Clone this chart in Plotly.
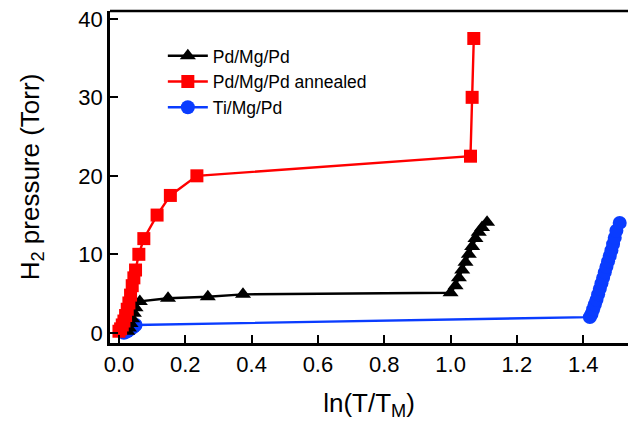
import plotly.graph_objects as go

# Pd/Mg/Pd (black triangles)
pd_x = [0.025, 0.03, 0.035, 0.04, 0.045, 0.05, 0.063, 0.148, 0.268, 0.374,
        1.0, 1.015, 1.025, 1.035, 1.045, 1.055, 1.065, 1.075, 1.085, 1.095, 1.11]
pd_y = [0.2, 0.6, 1.2, 1.8, 2.5, 3.2, 4.0, 4.4, 4.6, 4.9,
        5.1, 6.0, 7.0, 8.0, 9.0, 10.0, 11.0, 12.0, 12.8, 13.4, 14.1]

# Pd/Mg/Pd annealed (red squares)
ann_x = [0.0, 0.005, 0.01, 0.015, 0.02, 0.025, 0.03, 0.035, 0.04, 0.045, 0.05,
         0.06, 0.075, 0.115, 0.155, 0.235, 1.06, 1.065, 1.07]
ann_y = [0.2, 0.5, 1.0, 1.5, 2.2, 3.0, 3.8, 4.8, 6.0, 7.0, 8.0,
         10.0, 12.0, 15.0, 17.5, 20.0, 22.5, 30.0, 37.5]

# Ti/Mg/Pd (blue circles)
ti_x = [0.015, 0.02, 0.025, 0.03, 0.035, 0.04, 0.045, 0.05,
        1.42, 1.425, 1.43, 1.435, 1.44, 1.445, 1.45, 1.455, 1.46, 1.465,
        1.47, 1.475, 1.48, 1.485, 1.49, 1.495, 1.50, 1.51]
ti_y = [0.0, 0.1, 0.2, 0.35, 0.5, 0.65, 0.8, 1.0,
        2.0, 2.4, 3.0, 3.6, 4.2, 4.9, 5.6, 6.3, 7.0, 7.7,
        8.4, 9.1, 9.8, 10.5, 11.3, 12.1, 13.0, 14.0]

x_ticks = [0.0, 0.2, 0.4, 0.6, 0.8, 1.0, 1.2, 1.4]
y_ticks = [0, 10, 20, 30, 40]

BLUE = "#0A3CFF"
RED = "#FF0000"
BLACK = "#000000"

fig = go.Figure()
fig.add_trace(go.Scatter(x=ti_x, y=ti_y, mode="lines+markers", name="Ti/Mg/Pd",
                         legendrank=3,
                         line=dict(color=BLUE, width=2.4),
                         marker=dict(symbol="circle", size=14, color=BLUE)))
fig.add_trace(go.Scatter(x=pd_x, y=pd_y, mode="lines+markers", name="Pd/Mg/Pd",
                         legendrank=1,
                         line=dict(color=BLACK, width=2.4),
                         marker=dict(symbol="triangle-up", size=14, color=BLACK)))
fig.add_trace(go.Scatter(x=ann_x, y=ann_y, mode="lines+markers", name="Pd/Mg/Pd annealed",
                         legendrank=2,
                         line=dict(color=RED, width=2.4),
                         marker=dict(symbol="square", size=13, color=RED)))

font_family = "Liberation Sans, Arial, sans-serif"

fig.update_layout(
    width=628, height=425,
    margin=dict(l=110, r=0, t=11, b=82),
    paper_bgcolor="white", plot_bgcolor="white",
    font=dict(family=font_family, color="black"),
    showlegend=True,
    legend=dict(x=0.102, y=0.919, xanchor="left", yanchor="top",
                bgcolor="rgba(0,0,0,0)", font=dict(size=17.5, color="black"),
                tracegroupgap=0, itemwidth=40),
    xaxis=dict(range=[-0.027, 1.535], tickvals=x_ticks,
               ticktext=[f"{v:.1f}" for v in x_ticks],
               ticks="inside", ticklen=8, tickwidth=2, tickcolor="black",
               showline=True, linewidth=2.5, linecolor="black", mirror=False,
               showgrid=False, zeroline=False,
               tickfont=dict(size=22, color="black"),
               title=dict(text="ln(T/T<sub>M</sub>)", font=dict(size=26, color="black"),
                          standoff=18)),
    yaxis=dict(range=[-1.3, 41.0], tickvals=y_ticks,
               ticks="inside", ticklen=8, tickwidth=2, tickcolor="black",
               showline=True, linewidth=2.5, linecolor="black",
               showgrid=False, zeroline=False, ticklabeloverflow="allow",
               tickfont=dict(size=22, color="black"),
               title=dict(text="H<sub>2</sub> pressure (Torr)", font=dict(size=26, color="black"),
                          standoff=32)),
)
fig.add_shape(type="line", xref="paper", yref="paper", x0=0, x1=1, y0=1, y1=1,
              line=dict(color="black", width=2.5))

fig.write_html("out.html", config={"displayModeBar": False},
               post_script="document.body.style.margin='0';document.body.style.overflow='hidden';")
